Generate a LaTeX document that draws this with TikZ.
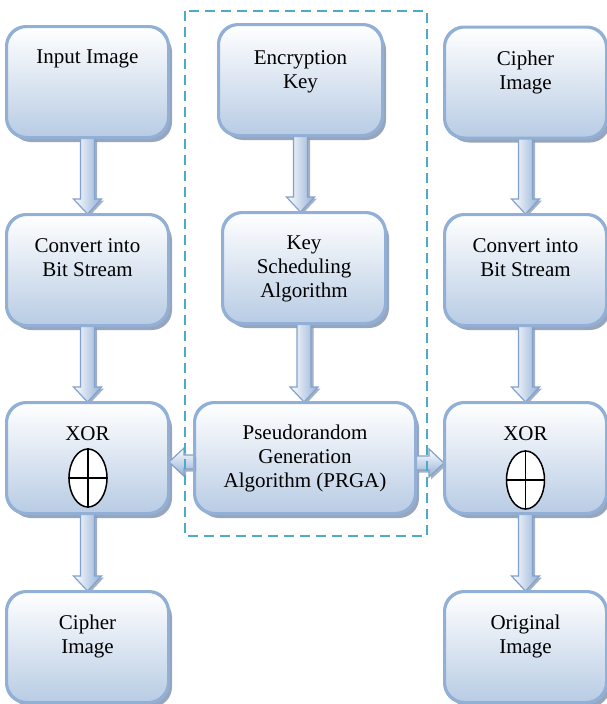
\documentclass[tikz,border=0pt]{standalone}
\usepackage{fontspec}
\setmainfont{Liberation Serif}
\usetikzlibrary{shadows,shapes.geometric,calc}

\definecolor{boxline}{RGB}{146,176,214}
\definecolor{boxbottom}{RGB}{184,204,228}
\definecolor{boxshadow}{RGB}{140,156,182}
\definecolor{arrowblue}{RGB}{148,176,214}
\definecolor{arrowline}{RGB}{130,162,206}
\definecolor{groupline}{RGB}{75,172,198}

\tikzset{
  stage/.style={rectangle, rounded corners=20pt, draw=boxline, line width=2pt,
    top color=white, bottom color=boxbottom, minimum height=110pt,
    minimum width=161pt, inner sep=0pt,
    drop shadow={shadow xshift=4pt, shadow yshift=-5pt, fill=boxshadow, opacity=0.9}},
  caption/.style={anchor=north, align=center, inner sep=0pt,
    font=\fontsize{21}{24}\selectfont},
  varrowbody/.style={draw=arrowline, line width=1.2pt, left color=white, right color=arrowblue,
    drop shadow={shadow xshift=2.5pt, shadow yshift=-1.5pt, fill=boxshadow, opacity=0.8}},
  harrowbody/.style={draw=arrowline, line width=1.2pt, top color=white, bottom color=arrowblue,
    drop shadow={shadow xshift=2pt, shadow yshift=-2.5pt, fill=boxshadow, opacity=0.8}},
  xorsign/.style={draw=black, ellipse, line width=1.5pt, fill=white, inner sep=0pt,
    minimum width=38pt, minimum height=58pt},
  grouping/.style={draw=groupline, line width=2.5pt, dash pattern=on 10pt off 6pt}
}

% block arrow pointing down, from the bottom of #1 to the top of #2
\newcommand\flowdown[2]{%
  \path[varrowbody] let \p1=(#1.south), \p2=(#2.north) in
    (\x1-7pt,\y1) -- (\x1+7pt,\y1) -- (\x1+7pt,\y2+15pt) -- (\x1+14pt,\y2+15pt)
    -- (\x1,\y2) -- (\x1-14pt,\y2+15pt) -- (\x1-7pt,\y2+15pt) -- cycle;}

% horizontal block arrow from the side point #1 to the side point #2
\newcommand\flowside[2]{%
  \path[harrowbody] let \p1=(#1), \p2=(#2), \n1={(\x2>\x1) ? 1 : -1} in
    (\x1,\y1+7pt) -- (\x2-\n1*15pt,\y1+7pt) -- (\x2-\n1*15pt,\y1+14pt)
    -- (\x2,\y1) -- (\x2-\n1*15pt,\y1-14pt) -- (\x2-\n1*15pt,\y1-7pt) -- (\x1,\y1-7pt) -- cycle;}

\begin{document}
\begin{tikzpicture}[x=1pt,y=-1pt]
\useasboundingbox (0,0) rectangle (607,704);

% boxes (empty shapes; captions added below)
\node[stage] (in)    at (87.5,82)  {};
\node[stage] (conv1) at (87.5,270) {};
\node[stage] (xor1)  at (87.5,458) {};
\node[stage] (out1)  at (87.5,647) {};

\node[stage, minimum width=163pt] (key)  at (300.5,80) {};
\node[stage, minimum width=162pt] (ksa)  at (304,268)  {};
\node[stage, minimum width=220pt] (prga) at (305,458)  {};

\node[stage] (cin)   at (525.5,82.5) {};
\node[stage] (conv2) at (525.5,270)  {};
\node[stage] (xor2)  at (525.5,458)  {};
\node[stage] (orig)  at (525.5,647)  {};

% connectors
\flowdown{in}{conv1}
\flowdown{conv1}{xor1}
\flowdown{xor1}{out1}
\flowdown{key}{ksa}
\flowdown{ksa}{prga}
\flowdown{cin}{conv2}
\flowdown{conv2}{xor2}
\flowdown{xor2}{orig}
\coordinate (pl) at ([yshift=-4pt]prga.west);
\coordinate (pr) at ([yshift=-5pt]prga.east);
\coordinate (xl) at (xor1.east |- pl);
\coordinate (xr) at (xor2.west |- pr);
\flowside{pl}{xl}
\flowside{pr}{xr}

% redraw box outlines over the arrow ends
\foreach \b in {in,conv1,xor1,out1,key,ksa,prga,cin,conv2,xor2,orig}
  \draw[draw=boxline, line width=2pt, rounded corners=20pt]
    (\b.north west) rectangle (\b.south east);

% captions
\node[caption] (t-in)    at ([yshift=-24pt]in.north)    {Input Image};
\node[caption] (t-conv1) at ([yshift=-24pt]conv1.north) {Convert into\\Bit Stream};
\node[caption] (t-xor1)  at ([yshift=-24pt]xor1.north)  {XOR};
\node[caption] (t-out1)  at ([yshift=-24pt]out1.north)  {Cipher\\Image};
\node[caption] (t-key)   at ([yshift=-26pt]key.north)   {Encryption\\Key};
\node[caption] (t-ksa)   at ([yshift=-24pt]ksa.north)   {Key\\Scheduling\\Algorithm};
\node[caption] (t-prga)  at ([yshift=-22.5pt]prga.north)  {Pseudorandom\\Generation\\Algorithm (PRGA)};
\node[caption] (t-cin)   at ([yshift=-24pt]cin.north)   {Cipher\\Image};
\node[caption] (t-conv2) at ([yshift=-24pt]conv2.north) {Convert into\\Bit Stream};
\node[caption] (t-xor2)  at ([yshift=-24pt]xor2.north)  {XOR};
\node[caption] (t-orig)  at ([yshift=-24pt]orig.north)  {Original\\Image};

% XOR symbols
\node[xorsign] (e1) at (88,478) {};
\draw[line width=1.5pt] (e1.north) -- (e1.south) (e1.west) -- (e1.east);
\node[xorsign] (e2) at (525.5,480) {};
\draw[line width=1.5pt] (e2.north) -- (e2.south) (e2.west) -- (e2.east);

% key-stream generator group
\draw[grouping] (185,11) rectangle (427,536);
\end{tikzpicture}
\end{document}
